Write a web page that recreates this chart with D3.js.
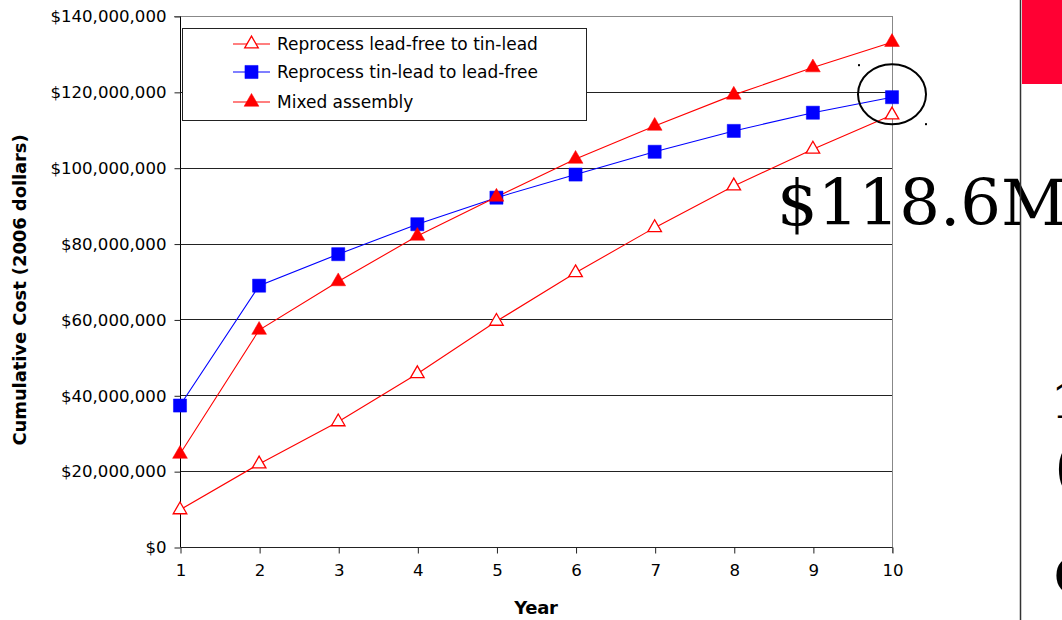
<!DOCTYPE html>
<html>
<head>
<meta charset="utf-8">
<script src="https://cdn.jsdelivr.net/npm/d3@7"></script>
<style>
html,body{margin:0;padding:0;background:#fff;}
svg{display:block;}
</style>
</head>
<body>
<svg id="chart" width="1062" height="620"></svg>
<script>
const years = [1,2,3,4,5,6,7,8,9,10];
const leadFreeToTinLead = [9.8,21.9,33.0,45.7,59.5,72.3,84.2,95.2,104.9,113.9];
const tinLeadToLeadFree = [37.3,68.9,77.2,85.1,92.1,98.2,104.2,109.7,114.5,118.6];
const mixedAssembly = [24.5,57.2,70.0,82.0,92.3,102.3,111.0,119.2,126.4,133.1];
const yTicks = [0,20,40,60,80,100,120,140];
const seriesNames = ["Reprocess lead-free to tin-lead","Reprocess tin-lead to lead-free","Mixed assembly"];
const callout = "$118.6M";

const svg = d3.select("#chart");
const font = "DejaVu Sans, Verdana, sans-serif";
const fs = 16.6;
const x = d3.scaleLinear().domain([1,10]).range([180,892]);
const y = d3.scaleLinear().domain([0,140]).range([547,16]);

// gridlines
svg.append("g").selectAll("line").data(yTicks.filter(d=>d>0 && d<140)).join("line")
  .attr("x1",180).attr("x2",892)
  .attr("y1",d=>Math.round(y(d))+0.5).attr("y2",d=>Math.round(y(d))+0.5)
  .attr("stroke","#222").attr("stroke-width",1);
// top & right border
svg.append("line").attr("x1",174).attr("x2",892.5).attr("y1",Math.round(y(140))+0.5).attr("y2",Math.round(y(140))+0.5).attr("stroke","#888");
svg.append("line").attr("x1",892.5).attr("x2",892.5).attr("y1",16).attr("y2",553).attr("stroke","#888");

// y axis
const yAxis = d3.axisLeft(y).tickValues(yTicks).tickSize(6).tickPadding(8)
  .tickFormat(d=> d===0 ? "$0" : "$" + d3.format(",")(d*1000000));
const gy = svg.append("g").attr("transform","translate(180.5,0.5)").call(yAxis);
gy.select(".domain").attr("stroke","#000").attr("d","M0,"+y(140)+"V"+y(0));
gy.selectAll(".tick line").attr("stroke","#222");
gy.selectAll("text").attr("font-family",font).attr("font-size",fs).attr("fill","#000");

// x axis
const xAxis = d3.axisBottom(x).tickValues(years).tickSize(6).tickPadding(11).tickFormat(d3.format("d"));
const gx = svg.append("g").attr("transform","translate(0.5,547.5)").call(xAxis);
gx.select(".domain").attr("stroke","#222").attr("d","M180,0H892");
gx.selectAll(".tick line").attr("stroke","#222");
gx.selectAll("text").attr("font-family",font).attr("font-size",fs).attr("fill","#000");

// axis titles
svg.append("text").attr("x",536).attr("y",614).attr("text-anchor","middle")
  .attr("font-family",font).attr("font-weight","bold").attr("font-size",18).attr("letter-spacing","-0.3").text("Year");
svg.append("text").attr("transform","translate(26,290) rotate(-90)").attr("text-anchor","middle")
  .attr("font-family",font).attr("font-weight","bold").attr("font-size",18)
  .attr("letter-spacing","-0.1").text("Cumulative Cost (2006 dollars)");

const series = [
  {name:seriesNames[0], values:leadFreeToTinLead, color:"#ff0000", sym:d3.symbolTriangle, fill:"#fff", size:80},
  {name:seriesNames[1], values:tinLeadToLeadFree, color:"#0000ff", sym:d3.symbolSquare, fill:"#0000ff", size:172},
  {name:seriesNames[2], values:mixedAssembly, color:"#ff0000", sym:d3.symbolTriangle, fill:"#ff0000", size:95}
];
const line = d3.line().x((d,i)=>x(years[i])).y(d=>y(d));

series.forEach(s=>{
  svg.append("path").attr("d",line(s.values)).attr("fill","none").attr("stroke",s.color).attr("stroke-width",1.1);
});
series.forEach(s=>{
  svg.append("g").selectAll("path").data(s.values).join("path")
    .attr("transform",(d,i)=>`translate(${x(years[i])},${y(d)})`)
    .attr("d",d3.symbol().type(s.sym).size(s.size))
    .attr("fill",s.fill).attr("stroke",s.color).attr("stroke-width",s.fill==="#fff"?1.3:0.5);
});

// legend
const lg = svg.append("g");
lg.append("rect").attr("x",182.5).attr("y",28.5).attr("width",404).attr("height",92).attr("fill","#fff").attr("stroke","#222");
series.forEach((s,i)=>{
  const cy = [44,72,102][i];
  lg.append("line").attr("x1",233).attr("x2",270).attr("y1",cy).attr("y2",cy).attr("stroke",s.color).attr("stroke-width",1.1);
  lg.append("path").attr("transform",`translate(251.5,${cy})`).attr("d",d3.symbol().type(s.sym).size(s.size))
    .attr("fill",s.fill).attr("stroke",s.color).attr("stroke-width",s.fill==="#fff"?1.3:0.5);
  lg.append("text").attr("x",277).attr("y",cy+6).attr("font-family",font).attr("font-size",17).attr("fill","#000").text(s.name);
});

// callout ellipse with selection handles
const last = tinLeadToLeadFree[tinLeadToLeadFree.length-1];
const ex = x(10), ey = y(last)-3;
svg.append("ellipse").attr("cx",ex).attr("cy",ey).attr("rx",34).attr("ry",30).attr("fill","none").attr("stroke","#000").attr("stroke-width",2);
svg.append("rect").attr("x",ex-34).attr("y",ey-30).attr("width",2).attr("height",2).attr("fill","#000");
svg.append("rect").attr("x",ex+33).attr("y",ey+29).attr("width",2).attr("height",2).attr("fill","#000");

svg.append("text").attr("x",777).attr("y",225).attr("font-family","DejaVu Serif, serif").attr("font-size",64).attr("fill","#000").text(callout);

// slide decoration on the right
svg.append("line").attr("x1",1020.5).attr("x2",1020.5).attr("y1",0).attr("y2",620).attr("stroke","#333").attr("stroke-width",1.5);
svg.append("rect").attr("x",1022).attr("y",0).attr("width",40).attr("height",84).attr("fill","#ff0033");
svg.append("text").attr("x",1051).attr("y",418).attr("font-family","DejaVu Serif, serif").attr("font-size",48).text("1");
svg.append("text").attr("x",1054).attr("y",488).attr("font-family","DejaVu Serif, serif").attr("font-size",62).text("(");
svg.append("text").attr("x",1053).attr("y",593).attr("font-family","DejaVu Serif, serif").attr("font-size",68).text("c");
</script>
</body>
</html>
